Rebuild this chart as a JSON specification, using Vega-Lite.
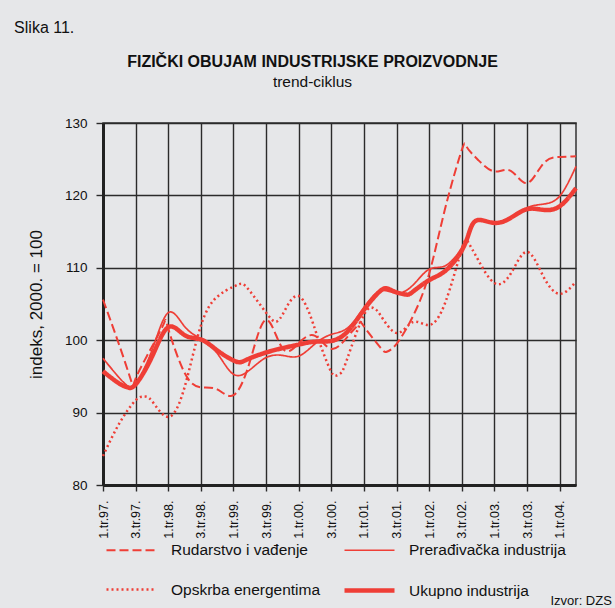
{
  "$schema": "https://vega.github.io/schema/vega-lite/v6.json",
  "width": 473,
  "height": 362,
  "autosize": {"type": "none"},
  "padding": {"left": 103, "top": 123, "right": 39, "bottom": 123},
  "background": "#e6e7e9",
  "config": {
    "font": "Liberation Sans",
    "view": {"stroke": "#333", "strokeWidth": 1.5},
    "axis": {"gridColor": "#2b2b2b", "gridWidth": 1.4, "gridOpacity": 1, "tickColor": "#2b2b2b", "domainColor": "#222", "labelColor": "#111", "titleColor": "#111", "labelFont": "Liberation Sans", "titleFont": "Liberation Sans"}
  },
  "title": {
    "text": "FIZIČKI OBUJAM INDUSTRIJSKE PROIZVODNJE",
    "subtitle": "trend-ciklus",
    "fontSize": 16,
    "fontWeight": "bold",
    "subtitleFontSize": 15.5,
    "subtitleColor": "#111",
    "color": "#111",
    "subtitlePadding": 5,
    "anchor": "middle",
    "frame": "group",
    "dx": -27,
    "offset": -70
  },
  "data": {"values": [
    {"s": "Rudarstvo i vađenje", "t": 0, "v": 105.6},
    {"s": "Rudarstvo i vađenje", "t": 1, "v": 99.3},
    {"s": "Rudarstvo i vađenje", "t": 1.75, "v": 94.2},
    {"s": "Rudarstvo i vađenje", "t": 2, "v": 94.7},
    {"s": "Rudarstvo i vađenje", "t": 3, "v": 99.1},
    {"s": "Rudarstvo i vađenje", "t": 3.75, "v": 102.4},
    {"s": "Rudarstvo i vađenje", "t": 4, "v": 101.6},
    {"s": "Rudarstvo i vađenje", "t": 5, "v": 95.5},
    {"s": "Rudarstvo i vađenje", "t": 6, "v": 93.5},
    {"s": "Rudarstvo i vađenje", "t": 7, "v": 93.2},
    {"s": "Rudarstvo i vađenje", "t": 8, "v": 92.4},
    {"s": "Rudarstvo i vađenje", "t": 9, "v": 97.0},
    {"s": "Rudarstvo i vađenje", "t": 10, "v": 102.8},
    {"s": "Rudarstvo i vađenje", "t": 11, "v": 98.9},
    {"s": "Rudarstvo i vađenje", "t": 12, "v": 99.6},
    {"s": "Rudarstvo i vađenje", "t": 13, "v": 100.6},
    {"s": "Rudarstvo i vađenje", "t": 14, "v": 98.8},
    {"s": "Rudarstvo i vađenje", "t": 15, "v": 100.5},
    {"s": "Rudarstvo i vađenje", "t": 15.7, "v": 102.3},
    {"s": "Rudarstvo i vađenje", "t": 16, "v": 101.9},
    {"s": "Rudarstvo i vađenje", "t": 17, "v": 99.0},
    {"s": "Rudarstvo i vađenje", "t": 17.4, "v": 98.4},
    {"s": "Rudarstvo i vađenje", "t": 18, "v": 99.5},
    {"s": "Rudarstvo i vađenje", "t": 19, "v": 103.3},
    {"s": "Rudarstvo i vađenje", "t": 20, "v": 109.2},
    {"s": "Rudarstvo i vađenje", "t": 21, "v": 118.4},
    {"s": "Rudarstvo i vađenje", "t": 22, "v": 126.3},
    {"s": "Rudarstvo i vađenje", "t": 22.3, "v": 126.7},
    {"s": "Rudarstvo i vađenje", "t": 23, "v": 124.9},
    {"s": "Rudarstvo i vađenje", "t": 24, "v": 123.3},
    {"s": "Rudarstvo i vađenje", "t": 25, "v": 123.4},
    {"s": "Rudarstvo i vađenje", "t": 26, "v": 121.7},
    {"s": "Rudarstvo i vađenje", "t": 27, "v": 124.4},
    {"s": "Rudarstvo i vađenje", "t": 28, "v": 125.3},
    {"s": "Rudarstvo i vađenje", "t": 29, "v": 125.4},

    {"s": "Opskrba energentima", "t": 0, "v": 84.0},
    {"s": "Opskrba energentima", "t": 1, "v": 88.5},
    {"s": "Opskrba energentima", "t": 2, "v": 91.7},
    {"s": "Opskrba energentima", "t": 2.5, "v": 92.2},
    {"s": "Opskrba energentima", "t": 3, "v": 91.6},
    {"s": "Opskrba energentima", "t": 4, "v": 89.4},
    {"s": "Opskrba energentima", "t": 5, "v": 93.5},
    {"s": "Opskrba energentima", "t": 6, "v": 102.0},
    {"s": "Opskrba energentima", "t": 7, "v": 106.0},
    {"s": "Opskrba energentima", "t": 8, "v": 107.4},
    {"s": "Opskrba energentima", "t": 8.5, "v": 107.8},
    {"s": "Opskrba energentima", "t": 9, "v": 106.8},
    {"s": "Opskrba energentima", "t": 10, "v": 103.8},
    {"s": "Opskrba energentima", "t": 10.5, "v": 102.6},
    {"s": "Opskrba energentima", "t": 11, "v": 103.5},
    {"s": "Opskrba energentima", "t": 12, "v": 106.1},
    {"s": "Opskrba energentima", "t": 13, "v": 101.5},
    {"s": "Opskrba energentima", "t": 13.5, "v": 98.3},
    {"s": "Opskrba energentima", "t": 14, "v": 95.6},
    {"s": "Opskrba energentima", "t": 14.3, "v": 95.1},
    {"s": "Opskrba energentima", "t": 14.6, "v": 95.5},
    {"s": "Opskrba energentima", "t": 15, "v": 97.6},
    {"s": "Opskrba energentima", "t": 16, "v": 103.5},
    {"s": "Opskrba energentima", "t": 16.6, "v": 104.4},
    {"s": "Opskrba energentima", "t": 17, "v": 103.5},
    {"s": "Opskrba energentima", "t": 18, "v": 101.0},
    {"s": "Opskrba energentima", "t": 19, "v": 102.5},
    {"s": "Opskrba energentima", "t": 20, "v": 102.1},
    {"s": "Opskrba energentima", "t": 21, "v": 105.3},
    {"s": "Opskrba energentima", "t": 22, "v": 112.6},
    {"s": "Opskrba energentima", "t": 22.4, "v": 113.5},
    {"s": "Opskrba energentima", "t": 23, "v": 111.1},
    {"s": "Opskrba energentima", "t": 24, "v": 107.9},
    {"s": "Opskrba energentima", "t": 25, "v": 109.2},
    {"s": "Opskrba energentima", "t": 26, "v": 112.2},
    {"s": "Opskrba energentima", "t": 27, "v": 108.8},
    {"s": "Opskrba energentima", "t": 28, "v": 106.4},
    {"s": "Opskrba energentima", "t": 29, "v": 108.1},

    {"s": "Prerađivačka industrija", "t": 0, "v": 97.5},
    {"s": "Prerađivačka industrija", "t": 1, "v": 94.8},
    {"s": "Prerađivačka industrija", "t": 1.5, "v": 93.7},
    {"s": "Prerađivačka industrija", "t": 2, "v": 94.0},
    {"s": "Prerađivačka industrija", "t": 3, "v": 98.6},
    {"s": "Prerađivačka industrija", "t": 4, "v": 103.8},
    {"s": "Prerađivačka industrija", "t": 5, "v": 101.9},
    {"s": "Prerađivačka industrija", "t": 6, "v": 100.2},
    {"s": "Prerađivačka industrija", "t": 7, "v": 98.2},
    {"s": "Prerađivačka industrija", "t": 8, "v": 95.3},
    {"s": "Prerađivačka industrija", "t": 9, "v": 95.9},
    {"s": "Prerađivačka industrija", "t": 10, "v": 97.6},
    {"s": "Prerađivačka industrija", "t": 11, "v": 97.9},
    {"s": "Prerađivačka industrija", "t": 12, "v": 97.8},
    {"s": "Prerađivačka industrija", "t": 13, "v": 99.5},
    {"s": "Prerađivačka industrija", "t": 14, "v": 100.8},
    {"s": "Prerađivačka industrija", "t": 15, "v": 101.7},
    {"s": "Prerađivačka industrija", "t": 16, "v": 104.5},
    {"s": "Prerađivačka industrija", "t": 17, "v": 106.8},
    {"s": "Prerađivačka industrija", "t": 18, "v": 106.5},
    {"s": "Prerađivačka industrija", "t": 19, "v": 107.6},
    {"s": "Prerađivačka industrija", "t": 20, "v": 109.8},
    {"s": "Prerađivačka industrija", "t": 21, "v": 110.3},
    {"s": "Prerađivačka industrija", "t": 22, "v": 112.8},
    {"s": "Prerađivačka industrija", "t": 22.5, "v": 115.3},
    {"s": "Prerađivačka industrija", "t": 23, "v": 116.6},
    {"s": "Prerađivačka industrija", "t": 24, "v": 116.3},
    {"s": "Prerađivačka industrija", "t": 25, "v": 117.0},
    {"s": "Prerađivačka industrija", "t": 26, "v": 118.3},
    {"s": "Prerađivačka industrija", "t": 27, "v": 118.8},
    {"s": "Prerađivačka industrija", "t": 28, "v": 119.9},
    {"s": "Prerađivačka industrija", "t": 29, "v": 124.0},

    {"s": "Ukupno industrija", "t": 0, "v": 95.7},
    {"s": "Ukupno industrija", "t": 1, "v": 94.0},
    {"s": "Ukupno industrija", "t": 1.5, "v": 93.5},
    {"s": "Ukupno industrija", "t": 2, "v": 93.9},
    {"s": "Ukupno industrija", "t": 3, "v": 97.7},
    {"s": "Ukupno industrija", "t": 4, "v": 101.8},
    {"s": "Ukupno industrija", "t": 5, "v": 100.7},
    {"s": "Ukupno industrija", "t": 6, "v": 100.1},
    {"s": "Ukupno industrija", "t": 7, "v": 98.6},
    {"s": "Ukupno industrija", "t": 8, "v": 97.2},
    {"s": "Ukupno industrija", "t": 8.5, "v": 97.0},
    {"s": "Ukupno industrija", "t": 9, "v": 97.5},
    {"s": "Ukupno industrija", "t": 10, "v": 98.3},
    {"s": "Ukupno industrija", "t": 11, "v": 98.9},
    {"s": "Ukupno industrija", "t": 12, "v": 99.4},
    {"s": "Ukupno industrija", "t": 13, "v": 99.8},
    {"s": "Ukupno industrija", "t": 14, "v": 99.9},
    {"s": "Ukupno industrija", "t": 15, "v": 101.2},
    {"s": "Ukupno industrija", "t": 16, "v": 104.2},
    {"s": "Ukupno industrija", "t": 17, "v": 106.8},
    {"s": "Ukupno industrija", "t": 17.5, "v": 107.1},
    {"s": "Ukupno industrija", "t": 18, "v": 106.6},
    {"s": "Ukupno industrija", "t": 18.6, "v": 106.3},
    {"s": "Ukupno industrija", "t": 19, "v": 106.7},
    {"s": "Ukupno industrija", "t": 20, "v": 108.3},
    {"s": "Ukupno industrija", "t": 21, "v": 109.6},
    {"s": "Ukupno industrija", "t": 22, "v": 112.4},
    {"s": "Ukupno industrija", "t": 22.5, "v": 115.2},
    {"s": "Ukupno industrija", "t": 23, "v": 116.6},
    {"s": "Ukupno industrija", "t": 24, "v": 116.2},
    {"s": "Ukupno industrija", "t": 25, "v": 116.9},
    {"s": "Ukupno industrija", "t": 26, "v": 118.1},
    {"s": "Ukupno industrija", "t": 27, "v": 118.0},
    {"s": "Ukupno industrija", "t": 28, "v": 118.5},
    {"s": "Ukupno industrija", "t": 29, "v": 121.0}
  ]},
  "layer": [
    {
      "mark": {"type": "line", "interpolate": "natural", "color": "#ef3e36", "strokeCap": "butt"},
      "encoding": {
        "x": {
          "field": "t", "type": "quantitative",
          "scale": {"domain": [0, 29], "nice": false, "zero": false},
          "axis": {
            "values": [0, 2, 4, 6, 8, 10, 12, 14, 16, 18, 20, 22, 24, 26, 28],
            "tickCount": 30,
            "labelExpr": "(datum.value % 4 + 1) + '.tr.' + ((97 + floor(datum.value / 4)) % 100 < 10 ? '0' : '') + ((97 + floor(datum.value / 4)) % 100) + '.'",
            "labelAngle": 270,
            "labelAlign": "right",
            "labelBaseline": "middle",
            "labelFontSize": 12.5,
            "labelPadding": 9,
            "labelOverlap": false,
            "labelBound": false,
            "labelFlush": false,
            "tickSize": 6,
            "tickWidth": 1.4,
            "domainWidth": 3,
            "title": null,
            "grid": true
          }
        },
        "y": {
          "field": "v", "type": "quantitative",
          "scale": {"domain": [80, 130], "nice": false, "zero": false},
          "axis": {
            "values": [80, 90, 100, 110, 120, 130],
            "labelFontSize": 13.5,
            "labelPadding": 9,
            "tickSize": 7,
            "tickWidth": 1.4,
            "domainWidth": 3,
            "title": "indeks, 2000. = 100",
            "titleFontSize": 17,
            "titleFontWeight": "normal",
            "titlePadding": 19,
            "grid": true
          }
        },
        "detail": {"field": "s", "type": "nominal"},
        "strokeDash": {
          "field": "s", "type": "nominal",
          "scale": {
            "domain": ["Rudarstvo i vađenje", "Prerađivačka industrija", "Opskrba energentima", "Ukupno industrija"],
            "range": [[9, 4], [1, 0], [2, 3], [1, 0]]
          },
          "legend": {
            "title": null,
            "orient": "none",
            "direction": "horizontal",
            "legendX": 1,
            "legendY": 401,
            "columns": 2,
            "columnPadding": 14,
            "rowPadding": 4,
            "symbolType": "stroke",
            "symbolSize": 2500,
            "symbolStrokeColor": "#ef3e36",
            "labelFontSize": 15.5,
            "labelColor": "#111",
            "labelOffset": 12,
            "labelLimit": 300
          }
        },
        "strokeWidth": {
          "field": "s", "type": "nominal",
          "scale": {
            "type": "ordinal",
            "domain": ["Rudarstvo i vađenje", "Prerađivačka industrija", "Opskrba energentima", "Ukupno industrija"],
            "range": [2, 1.7, 2.5, 4.5]
          },
          "legend": {
            "title": null,
            "orient": "none",
            "direction": "horizontal",
            "legendX": 1,
            "legendY": 401,
            "columns": 2,
            "columnPadding": 14,
            "rowPadding": 4,
            "symbolType": "stroke",
            "symbolSize": 2500,
            "symbolStrokeColor": "#ef3e36",
            "labelFontSize": 15.5,
            "labelColor": "#111",
            "labelOffset": 12,
            "labelLimit": 300
          }
        }
      }
    },
    {
      "data": {"values": [{}]},
      "mark": {"type": "text", "align": "left", "baseline": "middle", "fontSize": 16, "color": "#111", "font": "Liberation Sans"},
      "encoding": {
        "x": {"datum": -5.45},
        "y": {"datum": 143.1},
        "text": {"value": "Slika 11."}
      }
    },
    {
      "data": {"values": [{}]},
      "mark": {"type": "text", "align": "right", "baseline": "middle", "fontSize": 13, "color": "#111", "font": "Liberation Sans"},
      "encoding": {
        "x": {"datum": 31.2},
        "y": {"datum": 64.0},
        "text": {"value": "Izvor: DZS"}
      }
    }
  ]
}
